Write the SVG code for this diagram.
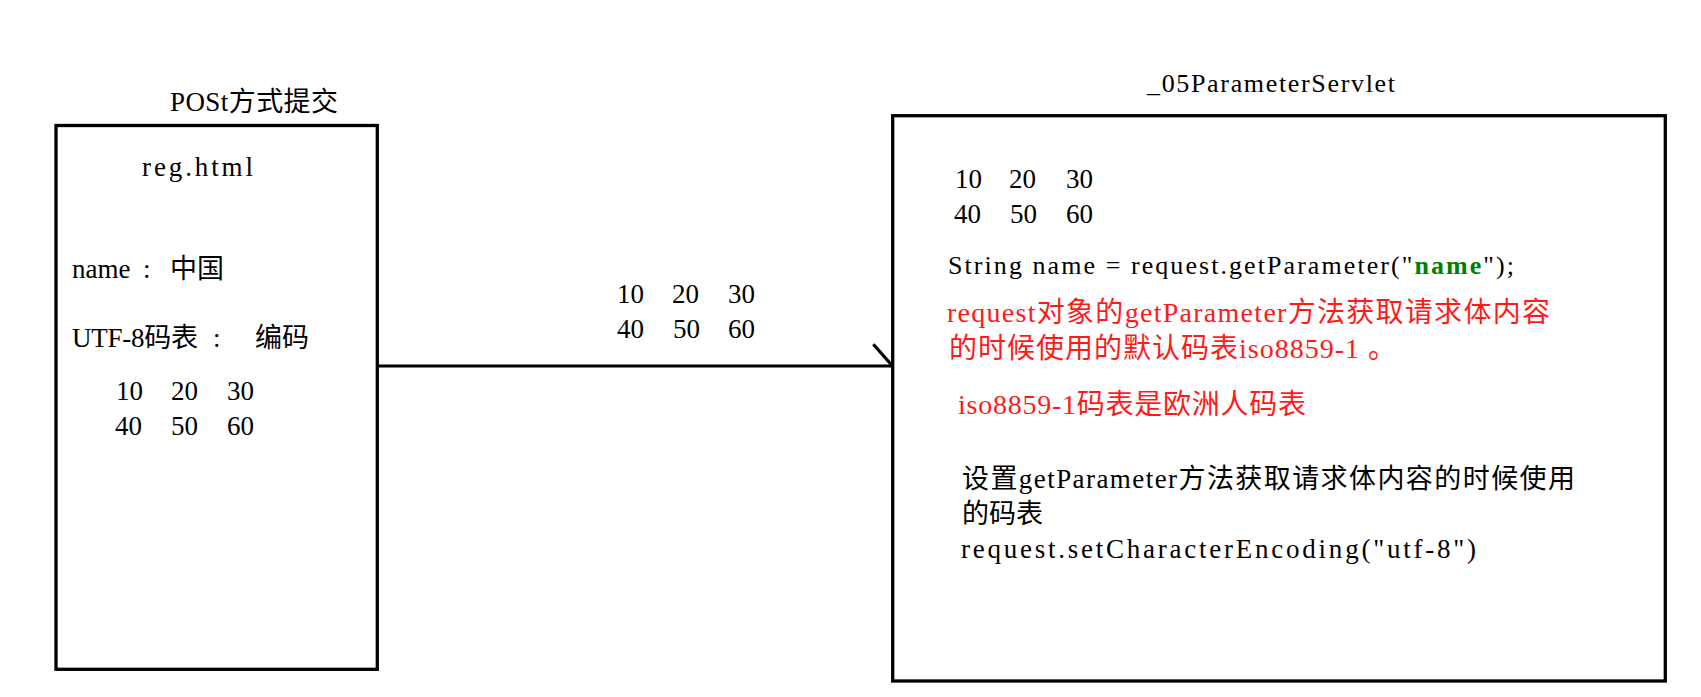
<svg xmlns="http://www.w3.org/2000/svg" width="1701" height="697" viewBox="0 0 1701 697">
<style>
  text { font-family: "Liberation Serif", "Noto Sans CJK SC", serif; fill: #000; }
  .box { fill: none; stroke: #000; stroke-width: 3.3; }
  .conn { fill: none; stroke: #000; stroke-width: 3.2; stroke-linecap: butt; }
  .s27 { font-size: 27px; }
  .s26 { font-size: 26px; }
  .red { font-size: 28px; fill: #ff1a1a; }
  .green { fill: #008000; font-weight: bold; }
</style>
<rect width="1701" height="697" fill="#fff"/>

<g id="connectors">
  <path class="conn" d="M377,366 H892.7"/>
  <path class="conn" d="M873.3,344.3 L892.3,365.7"/>
</g>

<g id="middle-data">
  <text class="s27" x="617" y="303">10</text>
  <text class="s27" x="672" y="303">20</text>
  <text class="s27" x="728" y="303">30</text>
  <text class="s27" x="617" y="338">40</text>
  <text class="s27" x="673" y="338">50</text>
  <text class="s27" x="728" y="338">60</text>
</g>

<g id="reg-html">
  <text class="s27" x="170" y="111" textLength="168" lengthAdjust="spacing">POSt方式提交</text>
  <rect class="box" x="56" y="125.5" width="321.3" height="543.8"/>
  <text class="s27" x="142" y="176" textLength="111" lengthAdjust="spacing">reg.html</text>
  <text class="s27" y="278"><tspan x="72">name</tspan><tspan x="143">:</tspan><tspan x="170">中国</tspan></text>
  <text class="s27" y="347"><tspan x="72" textLength="126" lengthAdjust="spacing">UTF-8码表</tspan><tspan x="213">:</tspan><tspan x="255">编码</tspan></text>
  <text class="s27" x="116" y="400">10</text>
  <text class="s27" x="171" y="400">20</text>
  <text class="s27" x="227" y="400">30</text>
  <text class="s27" x="115" y="435">40</text>
  <text class="s27" x="171" y="435">50</text>
  <text class="s27" x="227" y="435">60</text>
</g>

<g id="parameter-servlet">
  <text class="s26" x="1147" y="92" textLength="248" lengthAdjust="spacing">_05ParameterServlet</text>
  <rect class="box" x="892.7" y="115.7" width="772.6" height="565.3"/>
  <text class="s27" x="955" y="188">10</text>
  <text class="s27" x="1009" y="188">20</text>
  <text class="s27" x="1066" y="188">30</text>
  <text class="s27" x="954" y="223">40</text>
  <text class="s27" x="1010" y="223">50</text>
  <text class="s27" x="1066" y="223">60</text>
  <text class="s26" x="948" y="274" textLength="566" lengthAdjust="spacing">String name = request.getParameter("<tspan class="green">name</tspan>");</text>
  <text class="red" x="947" y="322" textLength="603" lengthAdjust="spacing">request对象的getParameter方法获取请求体内容</text>
  <text class="red" x="949" y="358" textLength="447" lengthAdjust="spacing">的时候使用的默认码表iso8859-1 。</text>
  <text class="red" x="958" y="414" textLength="348" lengthAdjust="spacing">iso8859-1码表是欧洲人码表</text>
  <text class="s27" x="962" y="488" textLength="613" lengthAdjust="spacing">设置getParameter方法获取请求体内容的时候使用</text>
  <text class="s27" x="962" y="523" textLength="81" lengthAdjust="spacing">的码表</text>
  <text class="s27" x="961" y="558" textLength="515" lengthAdjust="spacing">request.setCharacterEncoding("utf-8")</text>
</g>
</svg>
